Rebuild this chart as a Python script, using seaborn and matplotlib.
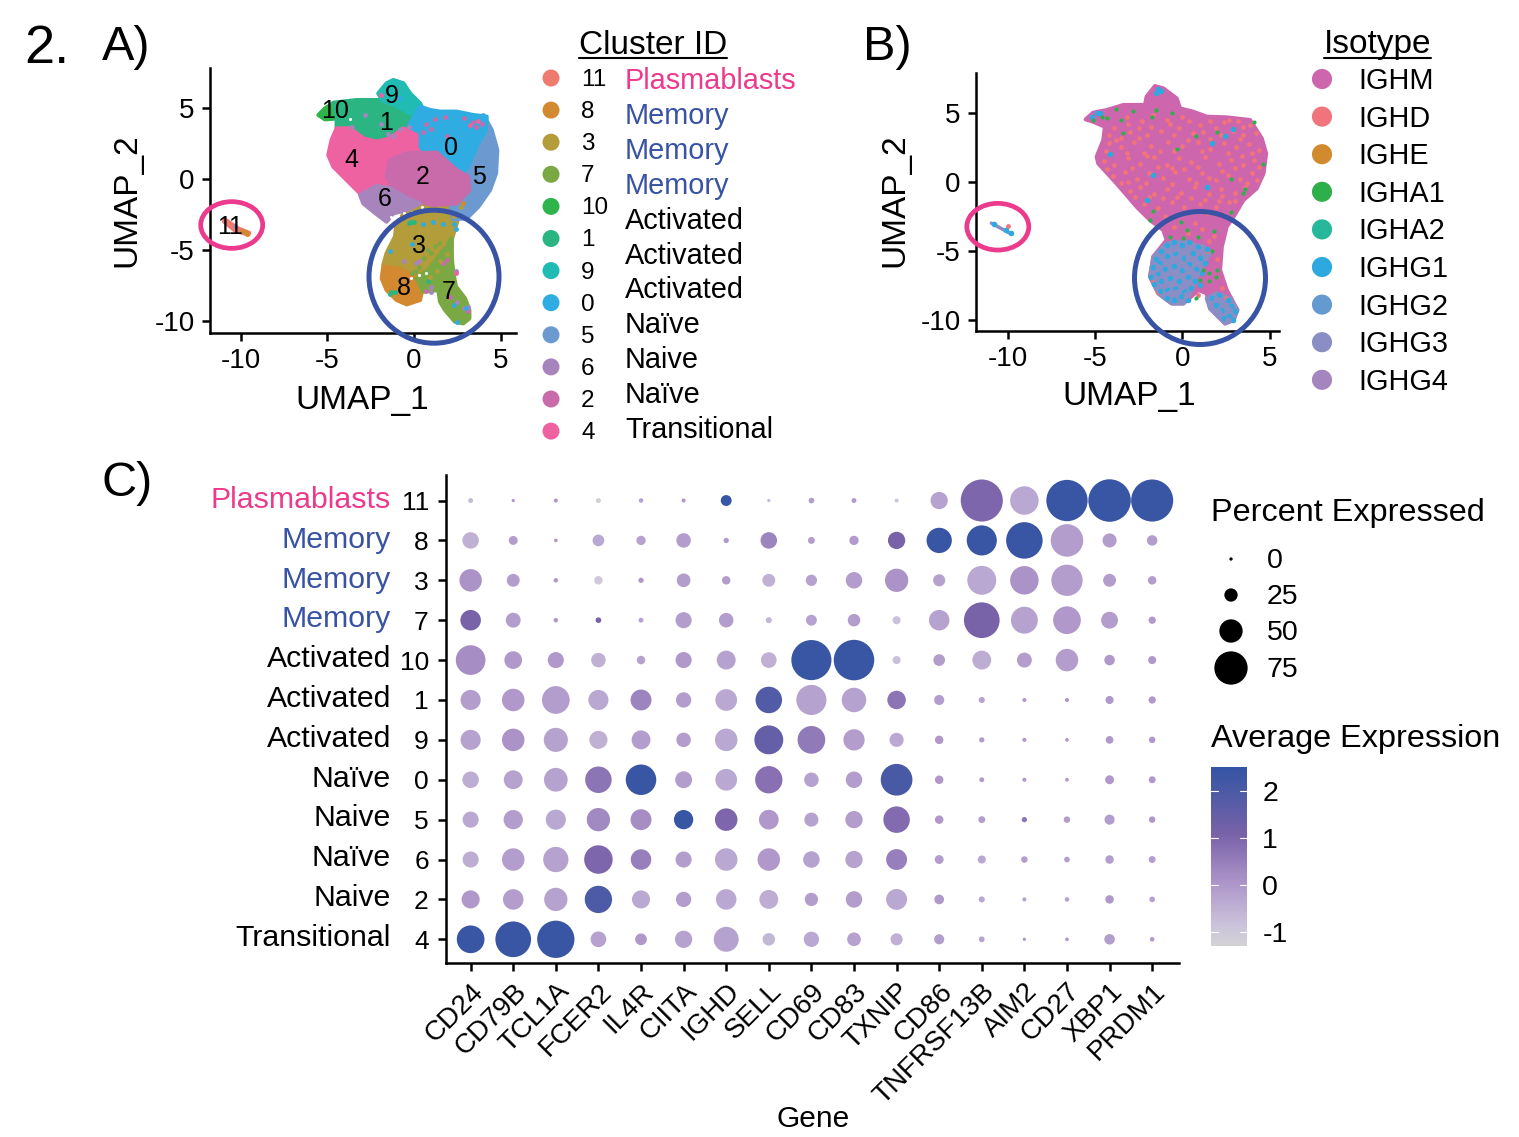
import numpy as np
import pandas as pd
import seaborn as sns
import matplotlib.pyplot as plt
from matplotlib.colors import LinearSegmentedColormap, Normalize
from matplotlib.patches import Ellipse

sns.set_theme(style="ticks")
plt.rcParams['font.family'] = ['Liberation Sans', 'DejaVu Sans']
plt.rcParams['axes.unicode_minus'] = False

# UMAP outlines of each cluster, drawn back to front
cluster_order = ['3', '5', '10', '1', '9', '0', '4', '2', '6', '8', '7', '11']
outline_10 = [(-5.51, 4.51), (-5.13, 4.98), (-4.65, 5.34), (-4.36, 4.28), (-5.13, 4.21)]
outline_1 = [(-4.65, 5.38), (-3.30, 5.57), (-1.96, 5.57), (-0.61, 5.45), (0.15, 5.34), (0.54, 4.87),
             (0.15, 4.16), (-0.61, 3.2), (-1.38, 2.4), (-2.15, 2.2), (-2.92, 2.5), (-3.69, 3.4),
             (-4.46, 3.6), (-4.46, 4.40)]
outline_9 = [(-2.06, 6.04), (-1.58, 6.75), (-1.19, 6.98), (-0.61, 6.75), (-0.23, 6.04), (0.35, 5.34),
             (0.54, 4.87), (-0.2, 4.6), (-1.2, 5.3), (-1.8, 5.5)]
outline_0 = [(0.35, 5.10), (0.92, 4.87), (1.50, 4.75), (2.46, 4.75), (3.42, 4.51), (4.19, 4.40), (4.15, 3.46),
             (3.65, 2.40), (3.19, 1.10), (2.84, 0.28), (0.54, 0.63), (-0.61, 2.75), (-0.23, 3.93)]
outline_5 = [(4.0, 4.51), (4.48, 3.46), (4.80, 2.05), (4.73, 0.40), (4.38, -0.78), (3.71, -1.95),
             (3.04, -2.77), (2.27, -2.84), (2.07, -1.72), (2.46, 1.34), (3.23, 3.69)]
outline_4 = [(-4.46, 3.57), (-3.69, 3.57), (-2.92, 2.87), (-2.15, 2.63), (-1.38, 2.87), (-0.61, 3.57),
             (0.15, 3.10), (0.15, 2.23), (0.54, 1.34), (0.54, -0.31), (-1.0, -1.01), (-2.15, -1.48),
             (-3.11, -1.01), (-3.88, -0.07), (-4.65, 0.87), (-4.94, 1.69), (-4.75, 2.75)]
outline_2 = [(-1.38, 1.34), (-0.42, 1.81), (1.31, 1.86), (2.46, 0.63), (3.13, 0.16), (3.19, -0.78),
             (2.46, -1.72), (1.11, -1.83), (-0.23, -1.48), (-1.19, -0.78), (-1.58, 0.28)]
outline_6 = [(-3.11, -1.13), (-2.15, -0.49), (-1.38, -0.66), (-0.23, -1.48), (0.35, -1.72), (-0.42, -2.19),
             (-1.19, -2.42), (-1.58, -3.01), (-2.34, -2.30), (-2.92, -1.72)]
outline_3 = [(-1.10, -4.07), (-1.0, -3.13), (-0.61, -2.47), (0.35, -1.95), (1.69, -1.95), (2.65, -2.19),
             (2.46, -3.13), (2.17, -4.30), (2.17, -5.48), (1.69, -6.65), (0.92, -7.59), (-0.61, -6.65),
             (-1.77, -6.06), (-1.58, -5.24)]
outline_8 = [(-1.77, -6.18), (-1.0, -6.30), (0.15, -6.89), (0.54, -7.36), (0.35, -8.53), (-0.42, -8.84),
             (-1.0, -8.53), (-1.58, -7.83), (-1.86, -7.01)]
outline_7 = [(1.69, -5.01), (2.17, -4.18), (2.17, -5.48), (2.27, -6.65), (2.42, -7.59), (2.94, -8.42),
             (3.19, -9.24), (3.19, -9.83), (2.84, -10.18), (2.36, -10.06), (1.79, -9.24), (1.50, -8.65),
             (1.40, -7.83), (0.54, -7.95), (0.15, -7.0), (0.92, -6.30), (1.40, -5.48)]
outline_11 = [(-10.9, -2.85), (-10.2, -3.45), (-9.5, -3.8), (-9.55, -3.92), (-10.3, -3.65), (-10.95, -3.0)]
cluster_outlines = {'10': outline_10, '1': outline_1, '9': outline_9, '0': outline_0, '5': outline_5,
                    '4': outline_4, '2': outline_2, '6': outline_6, '3': outline_3, '8': outline_8,
                    '7': outline_7, '11': outline_11}
cluster_colors = {'11': '#EF7A6E', '8': '#D2892F', '3': '#B39C3A', '7': '#7AA843', '10': '#2FB34B',
                  '1': '#2BB582', '9': '#20BBB2', '0': '#2FACE2', '5': '#6C9AD0', '6': '#A785BC',
                  '2': '#C96BAB', '4': '#EE62A2'}

# cells sitting away from their own cluster
stray_2 = [(0.7, 3.9), (1.2, 4.2), (1.8, 4.4), (2.9, 4.3), (3.6, 3.7), (3.9, 3.9), (1.9, 3.0), (1.0, 3.5),
           (0.5, 3.3), (3.4, 4.0), (1.7, -5.9), (1.9, -5.7), (0.7, -7.9), (2.1, -8.3), (3.1, -9.3)]
stray_6 = [(-1.9, 3.9), (-2.8, 4.5), (-1.5, 3.2), (-0.8, 3.5), (-0.3, 3.7), (-3.6, 3.7), (-1.2, 3.0),
           (-0.6, -5.8), (0.1, -5.9), (0.3, -5.8), (2.4, -6.5), (1.0, -8.0), (1.0, -7.6), (2.5, -8.7),
           (3.1, -9.0), (2.9, -9.1), (-10.3, -3.3)]
stray_4 = [(3.7, 4.1), (3.2, 3.8), (-1.9, 5.9), (2.4, -6.6)]
stray_0 = [(-0.1, -4.6), (-1.4, -5.1), (1.1, -3.0), (1.7, -3.2), (2.4, -3.5), (2.3, -3.2), (3.0, -9.1),
           (2.5, -10.1), (2.3, -8.9), (0.5, -3.2), (-0.8, 5.7)]
stray_1 = [(-0.2, -3.0), (-0.3, -3.1), (0, -3.0), (-1.3, -8.0), (-1.4, -8.1), (-1.1, -8.0), (0.8, -7.2)]
stray_8 = [(-9.7, -3.75), (-9.6, -3.85), (-9.9, -3.7), (2.8, -1.7)]
stray_7 = [(1.0, -5.2), (0.6, -5.6), (1.2, -4.7), (1.5, -4.5), (0.3, -6.2), (0.1, -6.5), (-0.1, -6.6), (0.8, -5.0)]
stray_3 = [(1.5, -5.8), (1.9, -5.3), (1.3, -6.5), (0.9, -6.9), (1.7, -4.6), (2.3, -2.6), (2.7, -2.0)]
stray_points = {'2': stray_2, '6': stray_6, '4': stray_4, '0': stray_0, '1': stray_1, '8': stray_8,
                '7': stray_7, '3': stray_3}
white_holes = [(-0.6, -2.4), (-0.9, -2.6), (0.45, -1.95), (-1.3, -2.65), (-3.7, 4.2), (-0.1, -2.3),
               (0.3, -6.8), (0.7, -6.6), (-0.2, -7.0)]

label_positions = {'0': (2.13, 2.16), '1': (-1.61, 3.93), '2': (0.48, 0.12), '3': (0.31, -4.72),
                   '4': (-3.63, 1.34), '5': (3.77, 0.16), '6': (-1.67, -1.43), '7': (1.98, -7.95),
                   '8': (-0.56, -7.71), '9': (-1.29, 5.88), '10': (-4.55, 4.82), '11': (-10.6, -3.36)}

# isotype panel
whole_outline = [(-5.54, 4.52), (-5.11, 5.0), (-4.34, 5.19), (-3.38, 5.56), (-2.14, 5.56), (-2.05, 6.16),
                 (-1.57, 6.93), (-1.09, 6.76), (-0.33, 6.04), (-0.13, 5.31), (0.63, 5.07), (1.40, 4.71),
                 (2.54, 4.66), (3.88, 4.47), (4.55, 3.14), (4.80, 2.05), (4.65, 0.60), (4.26, -0.48),
                 (3.50, -1.33), (2.93, -2.54), (2.54, -3.26), (2.26, -4.71), (2.16, -6.40), (2.54, -7.85),
                 (3.15, -9.30), (2.93, -10.02), (2.45, -10.27), (1.59, -9.18), (1.40, -8.09), (0.92, -7.85),
                 (0.06, -8.82), (-0.61, -8.82), (-1.38, -8.09), (-1.85, -6.88), (-1.66, -5.43), (-0.90, -4.23),
                 (-1.09, -3.50), (-1.85, -2.78), (-2.62, -1.81), (-3.77, -0.12), (-4.82, 1.33), (-4.91, 1.81),
                 (-4.53, 3.02), (-4.44, 3.99), (-5.11, 4.35)]
g_cloud_main = [(-1.85, -6.88), (-1.66, -5.43), (-0.90, -4.47), (0.06, -4.35), (1.21, -4.71), (1.59, -5.19),
                (1.21, -5.92), (0.82, -6.88), (0.44, -8.09), (0.06, -8.82), (-0.61, -8.82), (-1.38, -8.09)]
g_cloud_tail = [(1.40, -8.45), (1.97, -8.09), (2.73, -8.45), (3.15, -9.30), (2.93, -10.02), (2.45, -10.27),
                (1.59, -9.18)]
ighd_points = [(-3.2, 4.7), (-2.3, 4.4), (-1.7, 4.8), (-0.9, 4.5), (0.4, 4.4), (1.6, 4.4), (2.4, 4.3), (3.2, 4.4),
               (3.9, 4.1), (-3.9, 3.9), (-3.0, 3.6), (-2.5, 3.9), (-2.0, 3.4), (-1.2, 3.7), (-0.2, 3.9), (0.6, 3.5),
               (1.2, 3.6), (1.9, 3.9), (2.9, 3.7), (3.5, 3.4), (4.2, 3.5), (-4.2, 2.8), (-3.5, 2.5), (-2.8, 2.9),
               (-1.8, 2.6), (-0.8, 2.9), (0, 2.6), (0.9, 2.9), (1.6, 2.4), (2.4, 2.8), (3.1, 2.5), (3.8, 2.7),
               (4.4, 2.3), (-4.5, 1.5), (-3.9, 1.2), (-3.1, 1.7), (-2.4, 1.3), (-1.6, 1.8), (-0.9, 1.2), (-0.2, 1.7),
               (0.5, 1.4), (1.3, 1.8), (2.1, 1.3), (2.8, 1.6), (3.5, 1.2), (4.1, 1.6), (-4.0, 0.4), (-3.3, 0.7),
               (-2.6, 0.2), (-1.9, 0.6), (-1.1, 0.3), (-0.4, 0.7), (0.4, 0.2), (1.1, 0.6), (1.9, 0.1), (2.6, 0.5),
               (3.3, 0.2), (4.0, 0.6), (-3.0, -0.7), (-2.4, -0.4), (-1.6, -0.9), (-0.9, -0.5), (-0.1, -0.8),
               (0.7, -0.4), (1.5, -0.9), (2.2, -0.5), (3.0, -0.8), (3.6, -0.4), (-2.2, -1.6), (-1.4, -1.9),
               (-0.6, -1.5), (0.1, -1.8), (1.0, -1.6), (1.9, -1.8), (2.7, -1.5), (-0.5, -3.3), (0.3, -3.7),
               (1.1, -3.4), (1.8, -3.9), (1.4, -5.0), (2.0, -5.6), (0.9, -8.2), (2.3, -7.7), (2.5, -8.4),
               (-1.4, -8.0), (-1.7, -7.2), (-3.5, 3.2), (-2.2, 2.1), (-0.5, 2.2), (1.1, 2.2), (3.3, 3.1),
               (-3.1, 0.0), (-0.6, -0.2), (2.3, -1.0), (-10.0, -3.2), (-4.4, 2.2), (-3.8, 3.0), (-3.2, 2.1),
               (-2.5, 3.2), (-2.0, 1.9), (-1.3, 2.2), (-0.5, 3.4), (0.3, 3.0), (0.9, 1.1), (1.6, 3.1), (2.2, 3.4),
               (2.6, 2.1), (3.4, 1.9), (4.0, 2.1), (4.4, 1.1), (-4.3, 0.9), (-3.5, -0.1), (-2.9, 1.0), (-2.1, -0.1),
               (-1.4, 1.1), (-0.6, 1.0), (0.1, 0.9), (0.8, -0.1), (1.5, 0.3), (2.3, 0.8), (3.0, 1.0), (3.7, -0.1),
               (4.3, 0.1), (-2.7, -1.1), (-1.9, -1.1), (-1.1, -1.2), (-0.3, -1.1), (0.5, -1.2), (1.3, -1.3),
               (2.1, -1.4), (3.0, -1.4), (-1.8, 4.0), (-0.7, 4.2), (0.0, 4.7), (1.0, 4.1), (2.7, 4.5), (3.5, 4.0),
               (-3.1, 4.2), (-4.2, 3.4), (-1.0, -2.5), (-0.3, -2.4), (1.4, -2.3), (2.4, -2.4), (0.7, -3.0), (1.5, -4.3)]
ighg1_points = [(-1.5, -5.6), (-1.2, -5.0), (-0.9, -4.6), (-0.5, -4.4), (0, -4.6), (0.4, -4.4), (0.9, -4.7), (1.4, -4.9),
                (-1.7, -6.2), (-1.3, -5.9), (-0.9, -5.4), (-0.4, -5.2), (0.1, -5.5), (0.6, -5.2), (1.0, -5.5), (1.3, -5.9),
                (-1.8, -6.9), (-1.4, -6.7), (-1.0, -6.3), (-0.5, -6.1), (0, -6.4), (0.4, -6.0), (0.8, -6.3), (1.1, -6.6),
                (-1.6, -7.4), (-1.2, -7.2), (-0.7, -7.0), (-0.2, -7.2), (0.3, -6.9), (0.7, -7.2), (1.0, -7.5),
                (-1.3, -7.9), (-0.9, -7.8), (-0.4, -7.7), (0.1, -7.9), (0.5, -7.7), (-0.9, -8.4), (-0.5, -8.6),
                (-0.1, -8.3), (0.3, -8.6), (1.7, -8.4), (2.1, -8.2), (2.6, -8.6), (2.8, -9.0), (1.9, -8.9),
                (2.3, -9.3), (2.7, -9.7), (3.0, -9.4), (2.4, -9.9), (2.9, -10.0), (-1.4, 6.7), (-1.2, 6.6), (-1.5, 6.4),
                (-4.9, 4.95), (-4.7, 5.0), (-5.2, 4.7), (-4.15, 2.0), (2.45, 3.3), (2.9, 3.85), (1.7, 2.8), (1.4, -0.35),
                (-1.66, 0.5), (-2.05, -1.3), (-10.8, -3.1), (-10.1, -3.5), (-9.85, -3.75)]
ighg3_points = [(-1.4, -6.2), (-1.0, -5.8), (-0.6, -5.6), (-0.2, -5.9), (0.3, -5.5), (0.7, -5.7), (-1.5, -7.0), (-1.1, -6.7),
                (-0.7, -6.5), (-0.3, -6.6), (0.2, -6.2), (0.6, -6.6), (-1.0, -7.5), (-0.6, -7.4), (-0.1, -7.6), (0.4, -7.3),
                (-0.7, -8.1), (-0.3, -8.0), (0.2, -8.2), (-0.5, -4.9), (0.2, -4.9), (0.9, -5.1), (2.2, -8.7), (2.5, -9.1),
                (2.1, -9.5), (2.7, -9.3), (2.6, -10.0), (1.9, -8.5)]
igha1_points = [(-5.1, 4.5), (-4.6, 4.7), (-4.3, 4.6), (-3.8, 5.3), (-3.5, 4.5), (-3.4, 3.5), (-2.85, 5.1), (-1.76, 4.7),
                (-1.5, 5.2), (-0.6, 5.0), (-0.3, 2.4), (0.8, 3.3), (2.0, 3.6), (4.1, 4.35), (4.6, 1.3), (2.8, 0.2),
                (3.6, -0.5), (3.5, -0.8), (-1.66, -2.1), (-1.85, -2.8), (0.7, -2.1), (2.8, -2.2), (-0.1, -2.9),
                (0.25, -3.5), (0.05, -4.1), (0.9, -4.0), (1.8, -3.55), (-0.7, -4.0), (1.7, -5.0), (1.2, -6.4),
                (1.5, -6.6), (2.0, -6.4), (1.9, -6.9), (1.0, -7.1), (1.5, -7.2), (0.8, -8.45)]
ighg3_line = [(-10.95, -3.0), (-10.3, -3.45), (-9.8, -3.8)]

isotype_names = ['IGHM', 'IGHD', 'IGHE', 'IGHA1', 'IGHA2', 'IGHG1', 'IGHG2', 'IGHG3', 'IGHG4']
isotype_colors = ['#CD66AC', '#F1737B', '#D28A2E', '#2FAF4B', '#27B79B', '#2DA9E0', '#649ACF', '#8B8DC5', '#A585BD']

legend_clusters = ['11', '8', '3', '7', '10', '1', '9', '0', '5', '6', '2', '4']
legend_names = ['Plasmablasts', 'Memory', 'Memory', 'Memory', 'Activated', 'Activated', 'Activated',
                'Naïve', 'Naive', 'Naïve', 'Transitional']

# dot plot
genes = ['CD24', 'CD79B', 'TCL1A', 'FCER2', 'IL4R', 'CIITA', 'IGHD', 'SELL', 'CD69', 'CD83', 'TXNIP',
         'CD86', 'TNFRSF13B', 'AIM2', 'CD27', 'XBP1', 'PRDM1']
rows = ['11', '8', '3', '7', '10', '1', '9', '0', '5', '6', '2', '4']
row_names = ['Plasmablasts', 'Memory', 'Memory', 'Memory', 'Activated', 'Activated', 'Activated',
             'Naïve', 'Naive', 'Naïve', 'Naive', 'Transitional']
pct_11 = [4, 0, 2, 4, 3, 2, 19, 0, 6, 4, 2, 35, 97, 63, 95, 98, 97]
pct_8 = [33, 14, 1, 21, 15, 28, 5, 33, 9, 15, 35, 55, 67, 83, 73, 27, 18]
pct_3 = [48, 24, 3, 13, 5, 26, 13, 24, 20, 33, 50, 22, 64, 63, 70, 24, 13]
pct_7 = [43, 29, 3, 6, 4, 32, 28, 7, 19, 23, 12, 43, 81, 59, 61, 34, 10]
pct_10 = [66, 36, 32, 28, 13, 32, 39, 31, 92, 93, 12, 21, 39, 29, 48, 18, 12]
pct_1 = [42, 48, 61, 42, 44, 30, 46, 58, 67, 53, 38, 17, 7, 2, 2, 12, 10]
pct_9 = [42, 48, 52, 37, 39, 28, 48, 64, 61, 45, 27, 13, 5, 2, 1, 11, 8]
pct_0 = [33, 39, 51, 58, 68, 34, 46, 60, 28, 33, 71, 13, 4, 2, 1, 14, 9]
pct_5 = [32, 40, 42, 50, 44, 40, 48, 41, 27, 35, 58, 13, 9, 5, 8, 17, 8]
pct_6 = [32, 48, 55, 63, 43, 32, 48, 48, 33, 35, 44, 14, 12, 8, 6, 13, 9]
pct_2 = [37, 43, 50, 60, 37, 30, 43, 39, 25, 33, 44, 16, 7, 2, 3, 13, 6]
pct_4 = [61, 81, 85, 31, 21, 35, 54, 23, 30, 26, 22, 17, 6, 0, 1, 18, 3]
avg_11 = [-0.7, 0, 0, -1.1, -0.2, 0, 2.4, -0.7, -0.1, 0, -0.9, -0.2, 1.0, -0.3, 2.4, 2.4, 2.4]
avg_8 = [-0.5, -0.1, 0, -0.3, -0.2, -0.1, 0, 0.4, -0.1, -0.05, 1.1, 2.4, 2.4, 2.4, -0.1, -0.1, -0.1]
avg_3 = [0.1, -0.1, 0, -1.0, 0, -0.1, -0.1, -0.5, -0.2, -0.1, 0.1, -0.2, -0.3, 0.1, -0.1, -0.1, -0.1]
avg_7 = [1.1, -0.1, 0, 1.1, -0.2, -0.1, -0.1, -0.6, -0.2, -0.1, -0.8, -0.2, 1.1, -0.2, 0, -0.1, 0]
avg_10 = [0.2, 0, 0, -0.5, -0.2, 0, -0.2, -0.5, 2.4, 2.4, -0.8, -0.1, -0.4, -0.1, -0.1, 0, 0]
avg_1 = [-0.1, 0, -0.1, -0.3, 0.4, -0.1, -0.3, 1.9, -0.2, -0.2, 0.7, -0.1, -0.2, 0, 0, 0, 0]
avg_9 = [-0.2, 0.1, -0.2, -0.5, -0.1, -0.1, -0.3, 1.5, 0.6, -0.1, -0.3, 0, -0.1, 0, 0, 0, 0]
avg_0 = [-0.4, -0.2, -0.2, 0.7, 2.4, -0.1, -0.3, 0.8, -0.2, -0.1, 2.1, 0, 0, 0, 0, 0, 0]
avg_5 = [-0.3, -0.1, -0.3, 0.3, 0.2, 2.4, 1.0, 0, -0.2, -0.1, 0.9, 0, -0.1, 0.7, -0.1, -0.1, 0]
avg_6 = [-0.4, -0.1, -0.2, 1.0, 0.5, -0.1, -0.3, 0, -0.2, -0.2, 0.5, -0.1, -0.3, -0.1, -0.1, -0.1, -0.1]
avg_2 = [0, -0.1, -0.2, 2.0, -0.3, -0.1, -0.3, -0.4, -0.1, -0.1, -0.3, 0, -0.3, -0.2, -0.2, 0, -0.2]
avg_4 = [2.4, 2.4, 2.4, -0.2, 0, -0.2, -0.2, -0.6, -0.3, -0.2, -0.5, -0.1, -0.2, 0, 0, -0.1, 0]
pct_rows = [pct_11, pct_8, pct_3, pct_7, pct_10, pct_1, pct_9, pct_0, pct_5, pct_6, pct_2, pct_4]
avg_rows = [avg_11, avg_8, avg_3, avg_7, avg_10, avg_1, avg_9, avg_0, avg_5, avg_6, avg_2, avg_4]
size_breaks = [0, 25, 50, 75]
color_breaks = [2, 1, 0, -1]

W, H = 1519, 1137
PINK = '#EC3A8C'
BLUE = '#3953A4'
expr_cmap = LinearSegmentedColormap.from_list(
    'expr', [(0, '#D3D3D3'), (0.1, '#CDC6DC'), (0.35, '#AE96CA'), (0.62, '#7A63A9'), (1, '#3455A4')])
expr_norm = (-1.29, 2.51)


def radius_to_s(pct):
    # ggplot radius scale, diameter in px then points squared
    return ((3.3 + 0.4 * pct) * 72 / 100) ** 2


def px_axes(fig, left, top, right, bottom):
    return fig.add_axes([left / W, 1 - bottom / H, (right - left) / W, (bottom - top) / H])


def style_umap(ax, xlim, ylim):
    ax.set_xlim(*xlim)
    ax.set_ylim(*ylim)
    ax.set_xticks([-10, -5, 0, 5])
    ax.set_yticks([-10, -5, 0, 5])
    ax.set_xlabel('')
    ax.set_ylabel('')
    ax.patch.set_alpha(0)
    ax.tick_params(labelsize=20, length=6, width=1.8, color='black', labelcolor='black', pad=5)
    for side in ['left', 'bottom']:
        ax.spines[side].set_linewidth(1.8)
        ax.spines[side].set_color('black')
    sns.despine(ax=ax)


def fill_outline(ax, outline, color, zorder=1):
    xy = np.array(outline)
    ax.fill(xy[:, 0], xy[:, 1], color=color, lw=3, zorder=zorder, joinstyle='round')


def points_df(points):
    return pd.DataFrame(points, columns=['x', 'y'])


fig = plt.figure(figsize=(W / 100, H / 100), dpi=100)

# A) clusters
ax_a = px_axes(fig, 210, 68, 516, 333)
for c in cluster_order:
    fill_outline(ax_a, cluster_outlines[c], cluster_colors[c])
for c, pts in stray_points.items():
    sns.scatterplot(data=points_df(pts), x='x', y='y', color=cluster_colors[c], s=12, linewidth=0, ax=ax_a, zorder=2)
sns.scatterplot(data=points_df(white_holes), x='x', y='y', color='white', s=5, linewidth=0, ax=ax_a, zorder=2)
for c, (x, y) in label_positions.items():
    ax_a.text(x, y, c, fontsize=18, ha='center', va='center', color='black', zorder=3)
style_umap(ax_a, (-11.76, 5.88), (-10.86, 7.83))

# B) isotypes
ax_b = px_axes(fig, 976, 73, 1279, 331)
fill_outline(ax_b, whole_outline, isotype_colors[0])
fill_outline(ax_b, g_cloud_main, isotype_colors[7], zorder=1.5)
fill_outline(ax_b, g_cloud_tail, isotype_colors[7], zorder=1.5)
sns.lineplot(data=points_df(ighg3_line), x='x', y='y', color=isotype_colors[7], lw=2.5, ax=ax_b, zorder=2,
             sort=False, errorbar=None)
sns.scatterplot(data=points_df(ighd_points), x='x', y='y', color=isotype_colors[1], s=12, linewidth=0, ax=ax_b, zorder=2)
sns.scatterplot(data=points_df(ighg1_points), x='x', y='y', color=isotype_colors[5], s=16, linewidth=0, ax=ax_b, zorder=2.2)
sns.scatterplot(data=points_df(ighg3_points), x='x', y='y', color=isotype_colors[7], s=22, linewidth=0, ax=ax_b, zorder=2.3)
sns.scatterplot(data=points_df(igha1_points), x='x', y='y', color=isotype_colors[3], s=9, linewidth=0, ax=ax_b, zorder=2.4)
style_umap(ax_b, (-11.83, 5.54), (-10.82, 7.88))

# C) dot plot
records = []
for row, pcts, avgs in zip(rows[::-1], pct_rows[::-1], avg_rows[::-1]):
    for gene, pct, avg in zip(genes, pcts, avgs):
        records.append({'gene': gene, 'cluster': row, 'pct': pct, 'avg': avg})
dots = pd.DataFrame(records)
ax_c = px_axes(fig, 445.5, 475, 1179, 963)
sns.scatterplot(data=dots, x='gene', y='cluster', hue='avg', size='pct', palette=expr_cmap, hue_norm=expr_norm,
                sizes={p: radius_to_s(p) for p in dots['pct'].unique()}, linewidth=0, legend=False, ax=ax_c)
ax_c.set_xlim(-0.59, 16.63)
ax_c.set_ylim(-0.594, 11.64)
ax_c.set_xlabel('')
ax_c.set_ylabel('')
ax_c.tick_params(length=6, width=1.8, color='black', labelcolor='black', pad=5)
ax_c.tick_params(axis='y', labelsize=19, pad=6)
ax_c.tick_params(axis='x', labelsize=20)
plt.setp(ax_c.get_xticklabels(), rotation=45, ha='right', va='top', rotation_mode='anchor')
for side in ['left', 'bottom']:
    ax_c.spines[side].set_linewidth(1.8)
    ax_c.spines[side].set_color('black')
sns.despine(ax=ax_c)

# colour bar
ax_bar = px_axes(fig, 1211, 767, 1247, 946)
gradient = np.linspace(expr_norm[1], expr_norm[0], 256).reshape(-1, 1)
ax_bar.imshow(gradient, cmap=expr_cmap, norm=Normalize(*expr_norm), aspect='auto',
              extent=[0, 1, expr_norm[0], expr_norm[1]])
for b in color_breaks:
    ax_bar.plot([0, 0.2], [b, b], color='white', lw=0.8)
    ax_bar.plot([0.8, 1], [b, b], color='white', lw=0.8)
ax_bar.set_xlim(0, 1)
ax_bar.set_xticks([])
ax_bar.yaxis.tick_right()
ax_bar.set_yticks(color_breaks)
ax_bar.tick_params(length=0, labelsize=20.5, labelcolor='black', pad=11)
sns.despine(ax=ax_bar, left=True, bottom=True, right=True, top=True)

# everything placed by hand sits on a pixel overlay
over = fig.add_axes([0, 0, 1, 1])
over.set_xlim(0, W)
over.set_ylim(H, 0)
over.axis('off')
over.patch.set_alpha(0)


def put(x, y, s, size=20, color='black', ha='left', rotation=0):
    # nudge because va=center sits a little high on this font
    if rotation:
        x += 2
    else:
        y += 2
    over.text(x, y, s, fontsize=size, color=color, ha=ha, va='center', rotation=rotation)


put(24, 47, '2.', size=39)
put(102, 45, 'A)', size=35)
put(863, 45, 'B)', size=35)
put(101, 481, 'C)', size=35)

put(362, 398, 'UMAP_1', size=24, ha='center')
put(125, 200, 'UMAP_2', size=24, ha='center', rotation=90)
put(1129, 395, 'UMAP_1', size=24, ha='center')
put(893, 200, 'UMAP_2', size=24, ha='center', rotation=90)
put(813, 1117, 'Gene', size=21.5, ha='center')

# cluster legend
put(579, 43, 'Cluster ID', size=24)
over.plot([579, 727], [58, 58], color='black', lw=1.5)
legend_y = [78 + 32.1 * i for i in range(len(legend_clusters))]
keys = pd.DataFrame({'x': 551, 'y': legend_y, 'cluster': legend_clusters})
sns.scatterplot(data=keys, x='x', y='y', hue='cluster', palette=cluster_colors, s=150, linewidth=0, legend=False, ax=over)
for y, c in zip(legend_y, legend_clusters):
    put(581, y, c, size=17.5)
for i, name in enumerate(legend_names):
    color = PINK if name == 'Plasmablasts' else BLUE if name == 'Memory' else 'black'
    put(625, 79 + 34.9 * i, name, size=20.8, color=color)

# isotype legend
put(1324, 43, 'Isotype', size=24)
over.plot([1324, 1431], [58, 58], color='black', lw=1.5)
iso_y = [79 + 37.6 * i for i in range(len(isotype_names))]
iso_keys = pd.DataFrame({'x': 1322, 'y': iso_y, 'name': isotype_names})
sns.scatterplot(data=iso_keys, x='x', y='y', hue='name', palette=dict(zip(isotype_names, isotype_colors)),
                s=210, linewidth=0, legend=False, ax=over)
for y, name in zip(iso_y, isotype_names):
    put(1358, y, name, size=20.8)

# row names of the dot plot
for i, name in enumerate(row_names):
    color = PINK if name == 'Plasmablasts' else BLUE if name == 'Memory' else 'black'
    put(391, 498 + 39.8 * i, name, size=21.8, color=color, ha='right')

# size legend
put(1211, 511, 'Percent Expressed', size=23.3)
size_y = [559, 595, 631, 668]
size_keys = pd.DataFrame({'x': 1231, 'y': size_y, 'pct': size_breaks})
sns.scatterplot(data=size_keys, x='x', y='y', size='pct', sizes={p: radius_to_s(p) for p in size_breaks},
                color='black', linewidth=0, legend=False, ax=over)
for y, p in zip(size_y, size_breaks):
    put(1267, y, str(p), size=20.5)
put(1211, 737, 'Average Expression', size=23.3)

# hand drawn rings
over.add_patch(Ellipse((231.7, 225), 62, 46.7, fill=False, ec=PINK, lw=3.4))
over.add_patch(Ellipse((434, 276.7), 130, 133, fill=False, ec=BLUE, lw=3.6))
over.add_patch(Ellipse((997.8, 226.7), 62, 46.7, fill=False, ec=PINK, lw=3.4))
over.add_patch(Ellipse((1200, 278), 131, 133, fill=False, ec=BLUE, lw=3.6))
over.set_xlim(0, W)
over.set_ylim(H, 0)
over.set_xlabel('')
over.set_ylabel('')

fig.savefig('out.png', dpi=100)
